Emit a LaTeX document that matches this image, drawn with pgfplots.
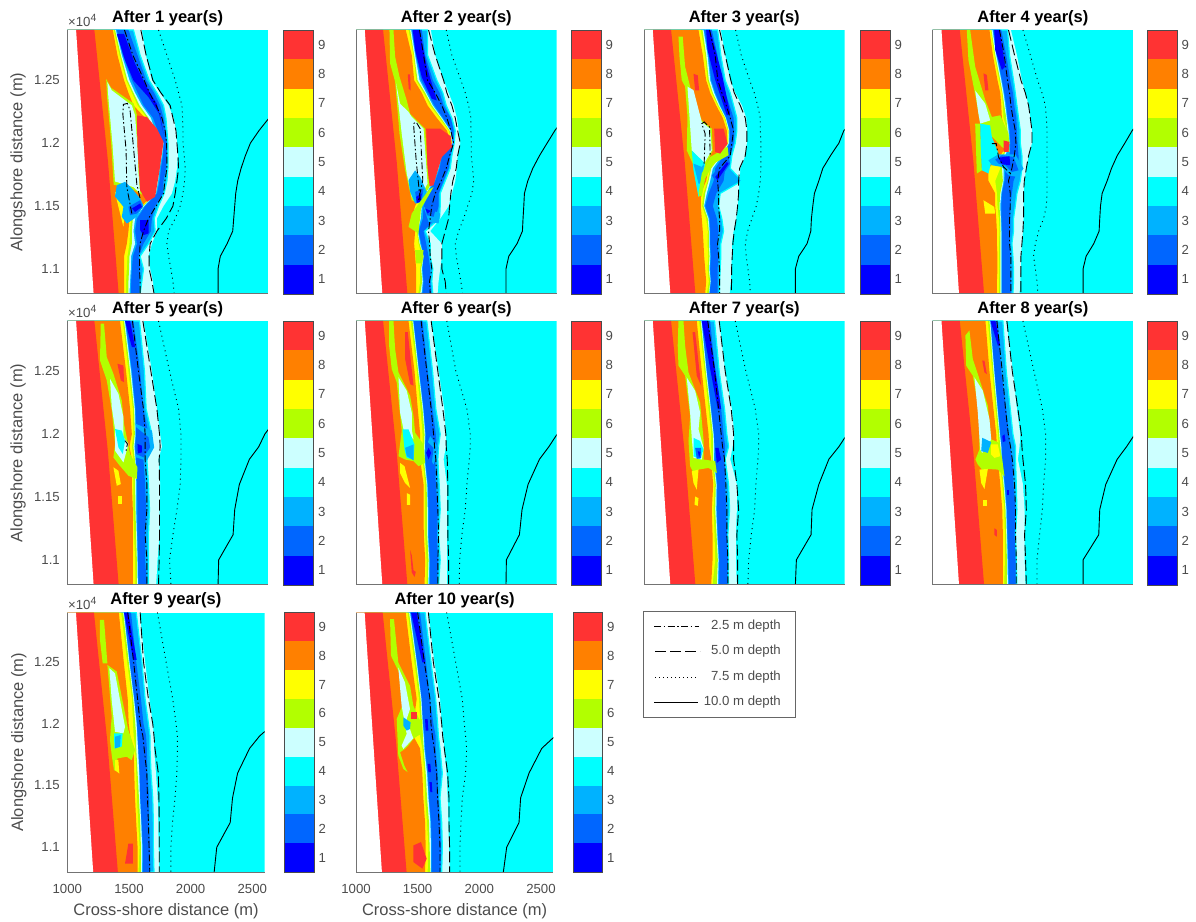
\documentclass[border=0pt]{standalone}
\usepackage{fontspec}
\setmainfont{Liberation Sans}
\usepackage{pgfplots}
\usepackage{pgfplotstable}
\pgfplotsset{compat=1.18}
\definecolor{c1}{RGB}{0,0,255}
\definecolor{c2}{RGB}{0,102,255}
\definecolor{c3}{RGB}{0,178,255}
\definecolor{c4}{RGB}{0,255,255}
\definecolor{c5}{RGB}{204,255,255}
\definecolor{c6}{RGB}{178,255,0}
\definecolor{c7}{RGB}{255,255,0}
\definecolor{c8}{RGB}{255,128,0}
\definecolor{c9}{RGB}{255,51,51}
\newcommand{\fsT}{\fontsize{16.5}{18}\selectfont\bfseries}
\newcommand{\fsL}{\fontsize{16.5}{18}\selectfont}
\newcommand{\fsK}{\fontsize{13.2}{15}\selectfont}
\pgfplotstableread{
y L k
12900 1070 1216
11850 1140 1325
10800 1210 1410
}\tabCoast
\pgfplotstableread{
y a b c d e f g h i j p q r s
12900 1595 1528 1488 1453 1416 1395 1387 1381 1371 1363 1456 1587 1728 2900
12700 1627 1581 1560 1528 1461 1443 1435 1427 1416 1400 1523 1629 1795 2900
12500 1675 1653 1629 1603 1541 1515 1496 1480 1469 1453 1613 1683 1861 2900
12400 1741 1715 1693 1648 1595 1560 1541 1528 1515 1488 1656 1747 1888 2800
12300 1808 1768 1741 1693 1635 1608 1595 1576 1560 1528 1709 1821 1915 2700
12200 1848 1787 1768 1741 1715 1683 1667 1648 1635 1621 1755 1843 1920 2610
12100 1869 1795 1781 1768 1747 1720 1701 1688 1683 1675 1781 1867 1923 2530
12000 1875 1803 1795 1787 1781 1768 1768 1763 1760 1755 1792 1875 1923 2461
11900 1883 1803 1795 1787 1776 1763 1755 1749 1747 1741 1795 1883 1933 2421
11800 1875 1803 1789 1781 1763 1747 1736 1731 1728 1723 1795 1888 1941 2387
11700 1861 1795 1768 1747 1741 1736 1725 1720 1715 1709 1779 1875 1936 2360
11600 1835 1773 1763 1741 1728 1715 1707 1699 1693 1688 1768 1861 1923 2344
11500 1768 1728 1701 1661 1635 1621 1613 1608 1603 1595 1709 1843 1901 2336
11400 1715 1693 1675 1648 1581 1555 1541 1523 1509 1496 1648 1789 1861 2328
11300 1715 1701 1667 1635 1581 1541 1528 1515 1501 1488 1608 1715 1808 2320
11200 1675 1648 1608 1595 1576 1555 1541 1515 1496 1475 1581 1661 1795 2275
11100 1648 1581 1568 1555 1536 1523 1509 1496 1480 1453 1576 1653 1808 2221
11000 1661 1608 1581 1560 1541 1515 1507 1493 1475 1453 1576 1653 1827 2203
10900 1683 1595 1576 1560 1533 1509 1501 1488 1469 1453 1581 1675 1843 2203
10800 1693 1581 1576 1568 1541 1507 1496 1488 1469 1453 1581 1693 1853 2203
}\tabA
\pgfplotstableread{
y a b c d e f g h i j p q r s
12900 1597 1571 1525 1507 1453 1445 1440 1432 1419 1397 1507 1579 1720 2900
12700 1632 1571 1552 1539 1491 1477 1472 1464 1459 1445 1539 1632 1765 2900
12500 1699 1645 1613 1597 1539 1520 1507 1491 1480 1464 1571 1699 1837 2900
12400 1739 1693 1667 1645 1592 1571 1560 1552 1539 1525 1632 1725 1872 2800
12300 1779 1720 1699 1677 1645 1624 1613 1605 1592 1571 1685 1765 1899 2700
12200 1805 1765 1757 1739 1712 1693 1685 1677 1667 1645 1725 1792 1917 2660
12100 1819 1792 1779 1773 1765 1757 1752 1747 1739 1725 1757 1811 1917 2587
12000 1832 1784 1779 1773 1773 1771 1771 1768 1765 1760 1779 1832 1920 2525
11900 1811 1765 1752 1747 1699 1685 1677 1672 1664 1659 1747 1811 1920 2464
11800 1805 1752 1739 1725 1685 1667 1659 1645 1637 1627 1720 1800 1931 2411
11700 1792 1712 1699 1672 1651 1632 1619 1611 1605 1592 1680 1773 1939 2371
11600 1765 1672 1659 1632 1597 1571 1560 1552 1539 1525 1632 1757 1925 2344
11500 1739 1672 1659 1619 1552 1539 1525 1520 1512 1472 1605 1747 1891 2339
11400 1672 1667 1632 1605 1560 1533 1517 1512 1499 1445 1592 1739 1859 2333
11300 1592 1552 1539 1525 1512 1499 1493 1491 1485 1472 1579 1712 1819 2328
11200 1685 1592 1560 1552 1533 1520 1512 1507 1499 1464 1587 1685 1792 2285
11100 1685 1592 1579 1560 1552 1539 1539 1539 1525 1472 1592 1685 1800 2219
11000 1672 1613 1592 1571 1544 1531 1525 1520 1512 1480 1605 1685 1819 2197
10900 1659 1605 1592 1579 1552 1539 1533 1528 1512 1480 1587 1712 1837 2197
10800 1651 1613 1600 1587 1544 1531 1523 1512 1496 1480 1592 1720 1851 2197
}\tabB
\pgfplotstableread{
y a b c d e f g h i j p q r s
12900 1613 1587 1541 1523 1488 1480 1475 1467 1453 1435 1523 1603 1731 2900
12700 1648 1613 1587 1560 1528 1515 1507 1496 1488 1469 1568 1648 1776 2900
12500 1688 1648 1608 1587 1555 1536 1528 1517 1507 1496 1589 1693 1843 2900
12400 1728 1688 1648 1621 1587 1568 1560 1549 1541 1528 1621 1720 1880 2800
12300 1781 1715 1683 1661 1629 1608 1603 1595 1587 1576 1656 1768 1907 2750
12200 1816 1741 1715 1693 1669 1656 1653 1648 1643 1629 1688 1808 1928 2675
12100 1821 1741 1720 1704 1688 1683 1680 1675 1669 1661 1715 1821 1928 2595
12000 1821 1728 1715 1701 1688 1683 1677 1672 1667 1661 1701 1821 1933 2555
11900 1808 1701 1688 1675 1648 1635 1621 1613 1603 1587 1688 1808 1933 2488
11800 1768 1688 1648 1621 1595 1568 1549 1536 1528 1515 1603 1763 1933 2427
11700 1763 1781 1635 1608 1581 1555 1528 1515 1507 1496 1587 1755 1928 2395
11600 1755 1608 1576 1555 1528 1515 1501 1488 1475 1453 1595 1755 1915 2360
11500 1747 1595 1549 1541 1528 1488 1480 1475 1464 1453 1595 1747 1896 2347
11400 1736 1621 1581 1568 1541 1523 1515 1509 1496 1461 1603 1736 1861 2336
11300 1715 1635 1595 1576 1549 1528 1523 1517 1509 1469 1603 1720 1827 2331
11200 1701 1613 1587 1568 1541 1528 1523 1517 1507 1475 1587 1709 1808 2301
11100 1701 1613 1595 1576 1549 1533 1528 1523 1512 1480 1595 1704 1816 2235
11000 1696 1608 1587 1568 1541 1528 1523 1517 1507 1488 1603 1699 1829 2208
10900 1693 1603 1587 1568 1536 1533 1531 1528 1517 1496 1603 1699 1843 2208
10800 1683 1603 1587 1568 1528 1523 1520 1517 1501 1488 1603 1696 1848 2208
}\tabC
\pgfplotstableread{
y a b c d e f g h i j p q r s
12900 1624 1597 1547 1531 1491 1483 1477 1469 1464 1453 1533 1605 1720 2900
12700 1672 1613 1587 1565 1525 1512 1507 1499 1493 1480 1571 1653 1779 2900
12500 1712 1645 1619 1597 1565 1552 1547 1539 1531 1517 1597 1704 1837 2900
12400 1739 1659 1640 1619 1587 1571 1565 1557 1552 1539 1613 1739 1872 2800
12300 1765 1672 1651 1632 1600 1587 1579 1571 1560 1547 1624 1765 1899 2750
12200 1779 1685 1667 1645 1619 1597 1592 1587 1565 1552 1640 1779 1907 2672
12100 1792 1699 1672 1653 1624 1613 1605 1597 1592 1579 1659 1792 1912 2592
12000 1792 1699 1677 1659 1632 1619 1613 1613 1611 1605 1664 1792 1912 2533
11900 1765 1712 1685 1659 1632 1613 1579 1565 1552 1539 1651 1765 1912 2472
11800 1747 1712 1685 1659 1605 1579 1565 1552 1539 1445 1632 1747 1912 2427
11700 1731 1699 1645 1619 1587 1573 1565 1560 1499 1445 1605 1731 1912 2392
11600 1725 1672 1632 1605 1565 1552 1547 1539 1512 1499 1619 1725 1912 2352
11500 1725 1659 1619 1587 1560 1547 1539 1533 1517 1499 1619 1725 1907 2339
11400 1725 1645 1619 1592 1560 1549 1544 1539 1528 1507 1613 1725 1885 2333
11300 1720 1645 1619 1592 1565 1552 1547 1541 1533 1512 1613 1720 1845 2328
11200 1712 1632 1613 1592 1560 1552 1547 1539 1528 1512 1613 1712 1819 2285
11100 1704 1640 1619 1592 1565 1552 1547 1539 1528 1517 1624 1704 1805 2224
11000 1704 1645 1619 1597 1565 1552 1547 1539 1531 1517 1624 1704 1819 2200
10900 1699 1645 1624 1597 1565 1552 1547 1539 1528 1512 1624 1704 1832 2200
10800 1693 1640 1624 1597 1560 1552 1547 1539 1528 1512 1624 1704 1840 2200
}\tabD
\pgfplotstableread{
y a b c d e f g h i j p q r s
12900 1608 1576 1528 1501 1475 1464 1459 1453 1443 1421 1520 1603 1728 2900
12500 1675 1616 1581 1560 1528 1515 1509 1501 1488 1469 1568 1667 1816 2900
12200 1715 1629 1608 1595 1560 1544 1539 1533 1523 1501 1608 1715 1888 2728
12000 1741 1675 1648 1608 1560 1549 1544 1539 1528 1515 1621 1736 1907 2576
11900 1755 1656 1629 1608 1549 1541 1536 1528 1515 1496 1621 1741 1907 2528
11800 1728 1635 1608 1595 1560 1549 1544 1539 1528 1515 1621 1733 1907 2453
11600 1741 1648 1621 1608 1560 1555 1549 1541 1528 1515 1635 1736 1901 2373
11400 1736 1656 1629 1613 1568 1560 1549 1544 1528 1523 1635 1736 1875 2336
11200 1736 1648 1621 1603 1568 1560 1555 1549 1533 1523 1621 1736 1843 2323
11000 1720 1648 1621 1608 1568 1563 1560 1555 1541 1523 1635 1733 1816 2208
10800 1709 1648 1635 1613 1576 1568 1563 1555 1544 1523 1635 1728 1827 2203
}\tabE
\pgfplotstableread{
y a b c d e f g h i j p q r s
12900 1600 1565 1531 1525 1464 1459 1456 1451 1437 1419 1520 1600 1725 2900
12500 1659 1611 1573 1568 1512 1504 1501 1496 1485 1467 1565 1653 1797 2900
12200 1704 1637 1611 1605 1547 1539 1536 1531 1515 1493 1600 1693 1885 2779
12000 1717 1672 1637 1611 1565 1555 1552 1547 1531 1512 1619 1717 1912 2605
11900 1717 1659 1645 1611 1563 1552 1549 1544 1531 1512 1627 1720 1912 2539
11800 1699 1653 1632 1611 1565 1552 1547 1541 1531 1512 1637 1728 1904 2464
11600 1725 1664 1637 1632 1584 1573 1568 1563 1552 1539 1645 1733 1885 2373
11400 1725 1672 1653 1648 1584 1579 1573 1568 1552 1539 1653 1733 1872 2325
11200 1725 1659 1645 1640 1592 1579 1573 1568 1552 1541 1659 1733 1845 2304
11000 1725 1672 1653 1648 1600 1589 1584 1579 1563 1552 1653 1739 1827 2200
10800 1725 1659 1648 1643 1600 1589 1579 1573 1563 1547 1653 1739 1824 2197
}\tabF
\pgfplotstableread{
y a b c d e f g h i j p q r s
12900 1600 1563 1528 1515 1467 1461 1459 1453 1440 1421 1509 1600 1728 2900
12500 1648 1600 1568 1555 1509 1501 1499 1493 1483 1461 1563 1648 1813 2900
12200 1701 1643 1616 1600 1547 1536 1533 1528 1515 1493 1595 1696 1888 2795
12000 1720 1661 1635 1621 1568 1557 1555 1549 1536 1515 1616 1715 1915 2621
11900 1707 1675 1648 1627 1568 1563 1560 1552 1536 1520 1627 1715 1915 2555
11800 1688 1648 1643 1621 1568 1563 1557 1552 1541 1536 1643 1715 1909 2475
11600 1741 1675 1648 1643 1595 1584 1579 1573 1563 1552 1653 1741 1893 2395
11400 1741 1683 1656 1648 1595 1581 1576 1568 1555 1541 1661 1755 1883 2341
11200 1733 1669 1661 1643 1600 1589 1584 1579 1563 1547 1661 1741 1856 2333
11000 1733 1675 1669 1648 1608 1600 1595 1589 1568 1547 1669 1747 1835 2216
10800 1741 1675 1664 1653 1611 1600 1589 1581 1547 1536 1669 1747 1829 2208
}\tabG
\pgfplotstableread{
y a b c d e f g h i j p q r s
12900 1587 1560 1520 1501 1467 1461 1459 1453 1440 1421 1512 1592 1720 2900
12500 1640 1587 1547 1533 1501 1493 1491 1485 1475 1453 1555 1635 1808 2900
12200 1672 1619 1587 1573 1528 1520 1517 1512 1501 1485 1581 1680 1875 2787
12000 1699 1640 1608 1587 1549 1539 1536 1531 1520 1507 1603 1707 1901 2613
11900 1693 1661 1619 1592 1555 1549 1547 1539 1528 1512 1621 1712 1901 2547
11800 1680 1661 1635 1619 1560 1555 1549 1544 1533 1520 1635 1720 1901 2472
11600 1720 1667 1645 1635 1587 1576 1571 1565 1555 1539 1653 1741 1885 2381
11400 1733 1672 1661 1651 1600 1592 1587 1581 1571 1555 1661 1747 1875 2333
11200 1733 1661 1653 1645 1608 1597 1592 1587 1576 1560 1661 1733 1853 2325
11000 1733 1667 1661 1653 1619 1603 1597 1592 1576 1560 1667 1741 1832 2200
10800 1741 1672 1661 1656 1619 1608 1600 1592 1571 1560 1667 1747 1832 2200
}\tabH
\pgfplotstableread{
y a b c d e f g h i j p q r s
12900 1586 1559 1517 1506 1463 1461 1458 1453 1437 1418 1490 1591 1731 2900
12500 1631 1605 1559 1543 1511 1506 1503 1498 1485 1458 1538 1618 1801 2900
12200 1666 1631 1597 1578 1551 1543 1541 1535 1525 1490 1570 1658 1855 2835
12000 1693 1658 1618 1602 1570 1565 1562 1551 1533 1498 1591 1693 1882 2673
11900 1703 1671 1639 1613 1578 1570 1567 1559 1538 1511 1613 1703 1893 2559
11800 1703 1671 1645 1623 1586 1575 1573 1559 1551 1538 1623 1711 1893 2478
11600 1719 1679 1650 1639 1591 1586 1583 1570 1559 1543 1645 1738 1888 2381
11400 1733 1693 1663 1650 1599 1591 1589 1581 1565 1549 1650 1743 1874 2340
11200 1738 1698 1663 1650 1613 1602 1599 1591 1575 1559 1658 1746 1853 2321
11000 1741 1698 1671 1661 1623 1613 1607 1597 1586 1570 1663 1746 1840 2212
10800 1746 1703 1671 1661 1623 1613 1605 1597 1578 1570 1669 1746 1840 2191
}\tabI
\pgfplotstableread{
y a b c d e f g h i j p q r s
12900 1587 1560 1519 1492 1446 1441 1438 1430 1419 1403 1500 1587 1735 2900
12500 1635 1608 1568 1546 1500 1495 1492 1487 1473 1451 1554 1627 1808 2900
12200 1681 1646 1600 1587 1546 1532 1530 1524 1511 1492 1600 1673 1862 2900
12000 1695 1662 1627 1608 1554 1543 1541 1535 1522 1465 1608 1695 1878 2695
11900 1708 1668 1646 1619 1565 1554 1549 1543 1519 1465 1619 1703 1889 2614
11800 1714 1681 1646 1627 1573 1560 1554 1549 1538 1519 1635 1716 1897 2506
11600 1735 1700 1662 1646 1592 1581 1576 1565 1554 1538 1654 1743 1889 2403
11400 1743 1681 1668 1662 1608 1592 1587 1576 1560 1546 1662 1754 1862 2335
11200 1749 1695 1681 1668 1619 1608 1603 1592 1576 1560 1673 1754 1851 2322
11000 1754 1700 1689 1681 1619 1614 1608 1597 1587 1565 1681 1759 1843 2222
10800 1762 1695 1684 1673 1619 1614 1608 1603 1581 1560 1681 1759 1843 2195
}\tabJ
\tikzset{
 dd/.style={black,line width=0.9pt,dash pattern=on 7pt off 2.5pt on 1.5pt off 2.5pt},
 dl/.style={black,line width=0.9pt,dash pattern=on 11pt off 4pt},
 dt/.style={black,line width=0.9pt,dash pattern=on 1pt off 4pt},
 sl/.style={black,line width=0.9pt}
}
\pgfplotsset{
 panel/.style={anchor=south west,scale only axis,xmin=1000,xmax=2600,ymin=10800,ymax=12900,
  axis x line*=bottom,axis y line*=left,axis line style={-,draw=black!55,line width=1pt},axis on top,
  xtick={1000,1500,2000,2500},ytick={11000,11500,12000,12500},tick style={draw=none},
  xticklabels={},yticklabels={},scaled ticks=false,
  tick label style={font=\fsK,text=black!70},
  title style={font=\fsT,at={(0.5,1)},anchor=south,yshift=-5pt},
  label style={font=\fsL,text=black!70}},
 ylab/.style={yticklabels={1.1,1.15,1.2,1.25},ylabel={Alongshore distance (m)},
  yticklabel style={xshift=-4pt},
  ylabel style={at={(axis description cs:-0.245,0.5)},anchor=center,rotate=0}},
 xlab/.style={xticklabels={1000,1500,2000,2500},xlabel={Cross-shore distance (m)},
  xticklabel style={yshift=-9pt},
  xlabel style={at={(axis description cs:0.5,-0.153)},anchor=center}},
 cbar/.style={anchor=south west,scale only axis,xmin=0,xmax=1,ymin=0.5,ymax=9.5,xtick=\empty,
  ytick={1,2,3,4,5,6,7,8,9},yticklabel pos=right,tick style={draw=none},
  /pgf/number format/assume math mode=true,yticklabel style={xshift=1pt},
  tick label style={font=\fsK,text=black!70},axis on top,
  axis line style={draw=black!70,line width=0.8pt}}
}
\newcommand{\poly}[2]{\addplot[fill=#1,draw=none] coordinates {#2} -- cycle;}
\newcommand{\band}[3]{\addplot[fill=#1,draw=none] table[x=#2,y=y]{#3} -- (axis cs:900,10800) -- (axis cs:900,12900) -- cycle;}
\newcommand{\panel}[8]{%
 \begin{axis}[panel,at={(#1pt,921pt-#2pt)},width=#3pt,height=#4pt,title={#5},#8]
 \poly{c4}{(1000,10800)(2600,10800)(2600,12900)(1000,12900)}
 \band{c5}{a}{#6}
 \addplot[fill=c3,draw=c4,line width=1.2pt] table[x=b,y=y]{#6} -- (axis cs:900,10800) -- (axis cs:900,12900) -- cycle;
 \band{c2}{c}{#6}\band{c2}{d}{#6}\band{c2}{e}{#6}\band{c3}{f}{#6}\band{c5}{g}{#6}\band{c6}{h}{#6}\band{c7}{i}{#6}\band{c8}{j}{#6}
 #7
 \band{c9}{k}{\tabCoast}
 \band{white}{L}{\tabCoast}
 \addplot[dd] table[x=p,y=y]{#6};
 \addplot[dl] table[x=q,y=y]{#6};
 \addplot[dt] table[x=r,y=y]{#6};
 \addplot[sl] table[x=s,y=y]{#6};
 \end{axis}}
\newcommand{\cb}[4]{%
 \begin{axis}[cbar,at={(#1pt,921pt-#2pt)},width=#3pt,height=#4pt]
 \poly{c1}{(0,0.5)(1,0.5)(1,1.5)(0,1.5)}
 \poly{c2}{(0,1.5)(1,1.5)(1,2.5)(0,2.5)}
 \poly{c3}{(0,2.5)(1,2.5)(1,3.5)(0,3.5)}
 \poly{c4}{(0,3.5)(1,3.5)(1,4.5)(0,4.5)}
 \poly{c5}{(0,4.5)(1,4.5)(1,5.5)(0,5.5)}
 \poly{c6}{(0,5.5)(1,5.5)(1,6.5)(0,6.5)}
 \poly{c7}{(0,6.5)(1,6.5)(1,7.5)(0,7.5)}
 \poly{c8}{(0,7.5)(1,7.5)(1,8.5)(0,8.5)}
 \poly{c9}{(0,8.5)(1,8.5)(1,9.5)(0,9.5)}
 \end{axis}}
\newcommand{\tenfour}[2]{\node[anchor=west,font=\fsK,text=black!70,inner sep=0pt] at (#1,921-#2) {×10\raisebox{5pt}{\fontsize{10.5}{12}\selectfont 4}};}
\begin{document}
\begin{tikzpicture}[x=1pt,y=1pt]
\path[use as bounding box] (0,0) rectangle (1196,921);
% ---- row 1
\panel{67.3}{294}{200.5}{264}{After 1 year(s)}{\tabA}{%
 \poly{c1}{(1395,12869)(1453,12869)(1541,12631)(1648,12419)(1715,12313)(1768,12075)(1741,12221)(1648,12366)(1528,12499)(1461,12658)}
 \poly{c1}{(1581,11387)(1648,11387)(1648,11282)(1608,11268)(1581,11308)}
 \poly{c6}{(1310,12510)(1350,12440)(1530,12315)(1555,12225)(1575,11970)(1583,11760)(1596,11590)(1528,11630)(1370,11670)(1350,12000)(1318,12360)}
 \poly{c5}{(1320,12485)(1355,12420)(1515,12300)(1541,12220)(1560,11970)(1568,11760)(1581,11600)(1528,11650)(1381,11695)(1360,12000)(1328,12360)}
 \poly{c9}{(1555,12220)(1635,12208)(1715,12115)(1768,12010)(1736,11785)(1701,11573)(1635,11533)(1581,11625)(1560,11970)}
 \poly{c7}{(1381,11610)(1427,11625)(1461,11493)(1448,11335)(1408,11493)}
 \poly{c3}{(1395,11665)(1461,11692)(1515,11640)(1581,11560)(1608,11505)(1555,11414)(1475,11360)(1435,11414)(1448,11494)(1381,11575)}
 \poly{c2}{(1488,11493)(1581,11546)(1603,11493)(1555,11440)(1501,11427)}
 \poly{c1}{(1515,11480)(1581,11520)(1595,11493)(1541,11453)}
 \addplot[dd] coordinates {(1515,11440)(1475,11650)(1469,11945)(1443,12235)(1448,12308)(1480,12316)(1501,12260)(1533,11912)(1555,11672)(1581,11560)};
}{ylab}
\cb{283.5}{294}{30}{264}
\tenfour{68}{20}
\panel{356}{294}{200.5}{264}{After 2 year(s)}{\tabB}{%
 \poly{c1}{(1453,12900)(1507,12900)(1565,12608)(1645,12340)(1605,12353)(1525,12525)(1472,12741)}
 \poly{c6}{(1267,12900)(1299,12900)(1312,12688)(1347,12529)(1405,12340)(1432,12234)(1552,12115)(1571,11811)(1587,11652)(1499,11520)(1445,11546)(1392,11784)(1347,12075)(1312,12489)(1272,12635)}
 \poly{c5}{(1320,12475)(1352,12314)(1419,12248)(1445,12208)(1539,12115)(1552,11943)(1571,11679)(1499,11546)(1445,11573)(1405,11758)(1365,12075)}
 \poly{c3}{(1419,11705)(1472,11784)(1512,11731)(1565,11612)(1539,11533)(1472,11520)(1432,11612)}
 \poly{c2}{(1472,11612)(1539,11639)(1525,11546)(1485,11520)}
 \poly{c1}{(1480,11573)(1525,11599)(1512,11533)(1485,11525)}
 \poly{c9}{(1560,12115)(1672,12115)(1757,12054)(1765,11970)(1725,11930)(1685,11890)(1645,11758)(1619,11665)(1587,11657)(1571,11811)}
 \poly{c6}{(1579,11626)(1619,11652)(1512,11467)(1499,11281)(1419,11334)(1445,11440)}
 \poly{c6}{(1472,11149)(1539,11149)(1525,11043)(1480,11043)}
 \poly{c3}{(1539,11493)(1672,11440)(1659,11361)(1579,11374)}
 \poly{c2}{(1552,11493)(1632,11461)(1619,11414)(1565,11427)}
 \poly{c1}{(1552,11480)(1597,11461)(1571,11440)}
 \poly{c9}{(1413,12546)(1432,12546)(1437,12419)(1421,12432)}
 \addplot[dd] coordinates {(1512,11546)(1480,11864)(1459,12155)(1480,12168)(1512,12115)(1533,11705)(1499,11546)};
}{}
\cb{571}{294}{30}{264}
\panel{644}{294}{200.5}{264}{After 3 year(s)}{\tabC}{%
 \poly{c1}{(1496,12900)(1528,12900)(1621,12552)(1688,12234)(1661,12221)(1568,12502)(1507,12741)}
 \poly{c6}{(1275,12847)(1309,12847)(1328,12608)(1368,12449)(1461,12181)(1541,12115)(1549,11943)(1488,11811)(1461,11586)(1435,11573)(1389,11837)(1341,11943)(1347,12208)(1328,12449)(1301,12502)(1283,12688)}
 \poly{c5}{(1347,12449)(1395,12422)(1461,12168)(1528,12115)(1541,11943)(1480,11837)(1381,11943)}
 \poly{c4}{(1381,11943)(1488,11837)(1435,11573)(1395,11784)}
 \poly{c3}{(1395,11837)(1461,11811)(1480,11837)(1461,11678)(1435,11678)}
 \poly{c6}{(1667,11970)(1675,11904)(1555,11837)(1488,11718)(1461,11573)(1435,11599)(1461,11758)(1528,11890)}
 \poly{c9}{(1560,12115)(1635,12115)(1667,11996)(1608,11917)(1568,11930)}
 \poly{c9}{(1395,12552)(1429,12539)(1440,12419)(1408,12419)}
 \poly{c2}{(1541,11745)(1675,11877)(1688,11837)(1581,11678)}
 \poly{c1}{(1568,11731)(1661,11851)(1675,11837)(1587,11705)}
 \addplot[dd] coordinates {(1480,11837)(1488,12075)(1461,12155)(1480,12168)(1523,12128)(1528,11890)};
}{}
\cb{860}{294}{30}{264}
\panel{932.7}{294}{200.5}{264}{After 4 year(s)}{\tabD}{%
 \poly{c1}{(1491,12900)(1533,12900)(1579,12608)(1552,12581)(1499,12741)}
 \poly{c6}{(1272,12900)(1299,12900)(1339,12608)(1419,12343)(1472,12208)(1539,12221)(1605,12075)(1613,11930)(1552,11970)(1464,12062)(1379,12155)(1347,12343)(1285,12661)}
 \poly{c5}{(1339,12419)(1419,12314)(1459,12181)(1379,12155)(1365,12234)}
 \poly{c6}{(1339,12155)(1379,12155)(1392,11784)(1352,11758)}
 \poly{c4}{(1379,12155)(1459,12141)(1472,12049)(1525,11917)(1464,11837)(1445,11758)(1392,11784)(1384,11943)}
 \poly{c9}{(1565,12022)(1613,12009)(1605,11930)(1565,11930)}
 \poly{c9}{(1405,12555)(1432,12542)(1445,12419)(1419,12419)}
 \poly{c3}{(1445,11864)(1525,11911)(1659,11911)(1725,11798)(1672,11731)(1605,11745)(1552,11811)(1472,11824)}
 \poly{c2}{(1499,11869)(1552,11903)(1645,11890)(1685,11784)(1632,11771)(1579,11824)(1525,11837)}
 \poly{c1}{(1525,11884)(1613,11895)(1619,11824)(1552,11832)}
 \poly{c7}{(1405,11546)(1491,11493)(1499,11440)(1419,11440)}
 \addplot[dd] coordinates {(1472,11996)(1507,11996)(1525,11890)(1565,11811)(1619,11758)};
}{}
\cb{1147}{294}{30}{264}
% ---- row 2
\panel{67.3}{585}{200.5}{264}{After 5 year(s)}{\tabE}{%
 \poly{c1}{(1461,12900)(1501,12900)(1541,12693)(1515,12693)}
 \poly{c6}{(1267,12879)(1293,12879)(1315,12613)(1368,12480)(1435,12267)(1453,12081)(1501,11842)(1560,11736)(1555,11643)(1488,11669)(1408,11762)(1368,11815)(1381,11922)(1355,12187)(1315,12427)(1261,12586)}
 \poly{c5}{(1341,12440)(1408,12320)(1448,12134)(1448,11975)(1488,11922)(1448,11775)(1381,11868)(1381,12041)(1355,12214)}
 \poly{c4}{(1381,12041)(1435,12028)(1461,11948)(1443,11842)(1408,11895)}
 \poly{c9}{(1400,12560)(1448,12546)(1453,12413)(1427,12427)}
 \poly{c7}{(1368,11736)(1408,11709)(1427,11603)(1395,11589)}
 \poly{c7}{(1408,11510)(1435,11510)(1435,11443)(1408,11443)}
 \poly{c3}{(1549,12081)(1675,12028)(1693,11895)(1635,11789)(1549,11815)}
 \poly{c2}{(1549,12055)(1648,11975)(1661,11895)(1608,11815)(1549,11842)}
 \poly{c1}{(1560,11922)(1595,11908)(1595,11855)(1563,11847)}
 \addplot[dd] coordinates {(1461,11948)(1480,11922)(1469,11868)};
}{ylab}
\cb{283.5}{585}{30}{264}
\tenfour{68}{311}
\panel{356}{585}{200.5}{264}{After 6 year(s)}{\tabF}{%
 \poly{c6}{(1264,12900)(1299,12900)(1312,12678)(1339,12491)(1432,12305)(1459,12145)(1472,12011)(1539,11918)(1552,11771)(1499,11745)(1459,11785)(1392,11798)(1339,11825)(1365,12025)(1325,12412)(1285,12518)(1264,12705)}
 \poly{c5}{(1339,12452)(1405,12345)(1445,12171)(1445,12038)(1459,11958)(1379,12038)(1352,12171)}
 \poly{c4}{(1371,12038)(1419,12038)(1467,11918)(1459,11798)(1405,11811)(1387,11878)}
 \poly{c3}{(1392,11891)(1459,11918)(1459,11792)(1405,11825)}
 \poly{c7}{(1352,11771)(1387,11745)(1432,11571)(1392,11611)(1352,11691)}
 \poly{c7}{(1405,11531)(1432,11518)(1432,11438)(1405,11438)}
 \poly{c9}{(1392,12812)(1413,12812)(1459,12385)(1432,12398)(1392,12598)}
 \poly{c9}{(1432,11077)(1445,11037)(1459,10917)(1477,10904)(1467,10864)(1445,10900)}
 \poly{c3}{(1592,11985)(1659,11891)(1619,11758)(1552,11878)}
 \poly{c2}{(1565,11945)(1619,11891)(1605,11771)(1552,11851)}
 \poly{c1}{(1579,11891)(1600,11851)(1579,11798)(1560,11851)}
}{}
\cb{571}{585}{30}{264}
\panel{644}{585}{200.5}{264}{After 7 year(s)}{\tabG}{%
 \poly{c1}{(1461,12900)(1509,12900)(1568,12518)(1616,12198)(1589,12198)(1528,12518)}
 \poly{c6}{(1275,12900)(1315,12900)(1328,12705)(1355,12491)(1448,12251)(1475,11958)(1475,11798)(1568,11785)(1581,11691)(1515,11731)(1435,11718)(1395,11691)(1368,11745)(1355,11945)(1368,12145)(1328,12465)(1275,12545)(1269,12705)}
 \poly{c5}{(1341,12451)(1408,12345)(1448,12171)(1435,12038)(1475,11891)(1461,11798)(1395,11811)(1381,11971)(1368,12171)}
 \poly{c4}{(1395,11971)(1448,11945)(1475,11878)(1448,11798)(1395,11825)}
 \poly{c2}{(1408,11891)(1456,11891)(1456,11811)(1421,11803)}
 \poly{c1}{(1429,11865)(1451,11858)(1440,11811)}
 \poly{c7}{(1381,11705)(1435,11718)(1421,11558)(1395,11611)}
 \poly{c7}{(1408,11504)(1435,11491)(1429,11430)(1403,11438)}
 \poly{c9}{(1387,12812)(1408,12812)(1456,12385)(1421,12465)}
 \poly{c1}{(1568,11891)(1595,11891)(1616,11798)(1581,11771)}
}{}
\cb{860}{585}{30}{264}
\panel{932.7}{585}{200.5}{264}{After 8 year(s)}{\tabH}{%
 \poly{c1}{(1461,12900)(1501,12900)(1539,12705)(1520,12705)}
 \poly{c6}{(1261,12785)(1293,12825)(1320,12598)(1360,12478)(1440,12225)(1467,11958)(1533,11931)(1555,11798)(1573,11664)(1520,11718)(1440,11723)(1400,11712)(1360,11758)(1341,11798)(1373,11878)(1373,12171)(1320,12465)(1267,12545)}
 \poly{c5}{(1333,12451)(1400,12345)(1453,12118)(1467,11958)(1395,11851)(1379,11878)(1360,12171)}
 \poly{c3}{(1395,11971)(1467,11937)(1440,11851)(1387,11865)}
 \poly{c7}{(1467,11918)(1520,11918)(1539,11825)(1493,11811)(1467,11838)}
 \poly{c7}{(1373,11718)(1440,11723)(1413,11563)(1387,11611)}
 \poly{c7}{(1400,11478)(1435,11478)(1435,11430)(1400,11430)}
 \poly{c9}{(1395,12585)(1413,12585)(1432,12478)(1413,12491)}
 \poly{c9}{(1493,11251)(1512,11238)(1512,11184)(1493,11198)}
 \poly{c1}{(1555,11985)(1573,11998)(1581,11945)(1560,11937)}
 \poly{c1}{(1592,11558)(1608,11558)(1608,11518)(1592,11518)}
}{}
\cb{1147}{585}{30}{264}
% ---- row 3
\panel{67.3}{872}{197.3}{259.5}{After 9 year(s)}{\tabI}{%
 \poly{c1}{(1460,12900)(1495,12900)(1563,12516)(1536,12516)}
 \poly{c6}{(1265,12841)(1298,12841)(1325,12489)(1287,12489)(1265,12679)}
 \poly{c6}{(1325,12476)(1401,12422)(1495,11949)(1550,11787)(1522,11705)(1482,11733)(1406,11719)(1414,11611)(1379,11624)(1360,11746)(1346,11868)(1360,12057)}
 \poly{c5}{(1341,12449)(1387,12408)(1468,11976)(1455,11922)(1387,11935)(1360,12192)}
 \poly{c4}{(1379,11922)(1449,11922)(1441,11814)(1382,11800)}
 \poly{c3}{(1387,11895)(1433,11908)(1428,11814)(1387,11800)}
 \poly{c7}{(1387,11705)(1414,11705)(1422,11597)(1387,11624)}
 \poly{c9}{(1495,11030)(1531,11030)(1531,10868)(1468,10868)(1482,10949)}
}{ylab,xlab}
\cb{284.5}{872}{29.5}{259.5}
\tenfour{68}{603}
\panel{356}{872}{197.3}{259.5}{After 10 year(s)}{\tabJ}{%
 \poly{c1}{(1446,12900)(1492,12900)(1560,12496)(1538,12496)}
 \poly{c6}{(1276,12846)(1308,12846)(1343,12496)(1438,12307)(1465,12146)(1511,12038)(1538,11931)(1465,11877)(1424,11823)(1397,11796)(1357,11769)(1392,11661)(1419,11608)(1384,11634)(1343,11742)(1330,12038)(1376,12146)(1349,12415)(1284,12550)}
 \poly{c5}{(1343,12456)(1397,12334)(1438,12119)(1411,12038)(1451,11917)(1465,11882)(1384,11796)(1370,11823)(1411,11917)(1370,12146)}
 \poly{c3}{(1384,12052)(1443,12011)(1438,11958)(1411,11944)(1384,11984)}
 \poly{c6}{(1451,12025)(1538,12038)(1538,11917)(1465,11890)}
 \poly{c9}{(1446,12092)(1492,12092)(1492,12038)(1446,12038)}
 \poly{c9}{(1465,11015)(1527,11042)(1573,10908)(1538,10827)(1465,10881)}
 \poly{c1}{(1560,12038)(1581,12038)(1587,11944)(1565,11944)}
 \poly{c1}{(1581,11675)(1603,11675)(1608,11608)(1587,11608)}
 \poly{c1}{(1595,11527)(1614,11527)(1619,11446)(1603,11446)}
}{xlab}
\cb{573}{872}{29.5}{259.5}
% ---- legend
\begin{axis}[anchor=south west,at={(643pt,204pt)},scale only axis,width=152pt,height=106pt,
 xmin=0,xmax=152,ymin=0,ymax=106,xtick=\empty,ytick=\empty,axis line style={draw=black!60,line width=0.8pt},clip=false]
\addplot[dd] coordinates {(11,91)(56,91)};
\addplot[dl] coordinates {(12,66)(57,66)};
\addplot[black,line width=0.7pt,dash pattern=on 1pt off 3pt] coordinates {(12,40)(53,40)};
\addplot[sl] coordinates {(11,15)(55,15)};
\node[anchor=east,font=\fsK,text=black!70,inner sep=0pt] at (axis cs:138,91) {2.5 m depth};
\node[anchor=east,font=\fsK,text=black!70,inner sep=0pt] at (axis cs:138,66) {5.0 m depth};
\node[anchor=east,font=\fsK,text=black!70,inner sep=0pt] at (axis cs:138,40) {7.5 m depth};
\node[anchor=east,font=\fsK,text=black!70,inner sep=0pt] at (axis cs:138,15) {10.0 m depth};
\end{axis}
\end{tikzpicture}
\end{document}
